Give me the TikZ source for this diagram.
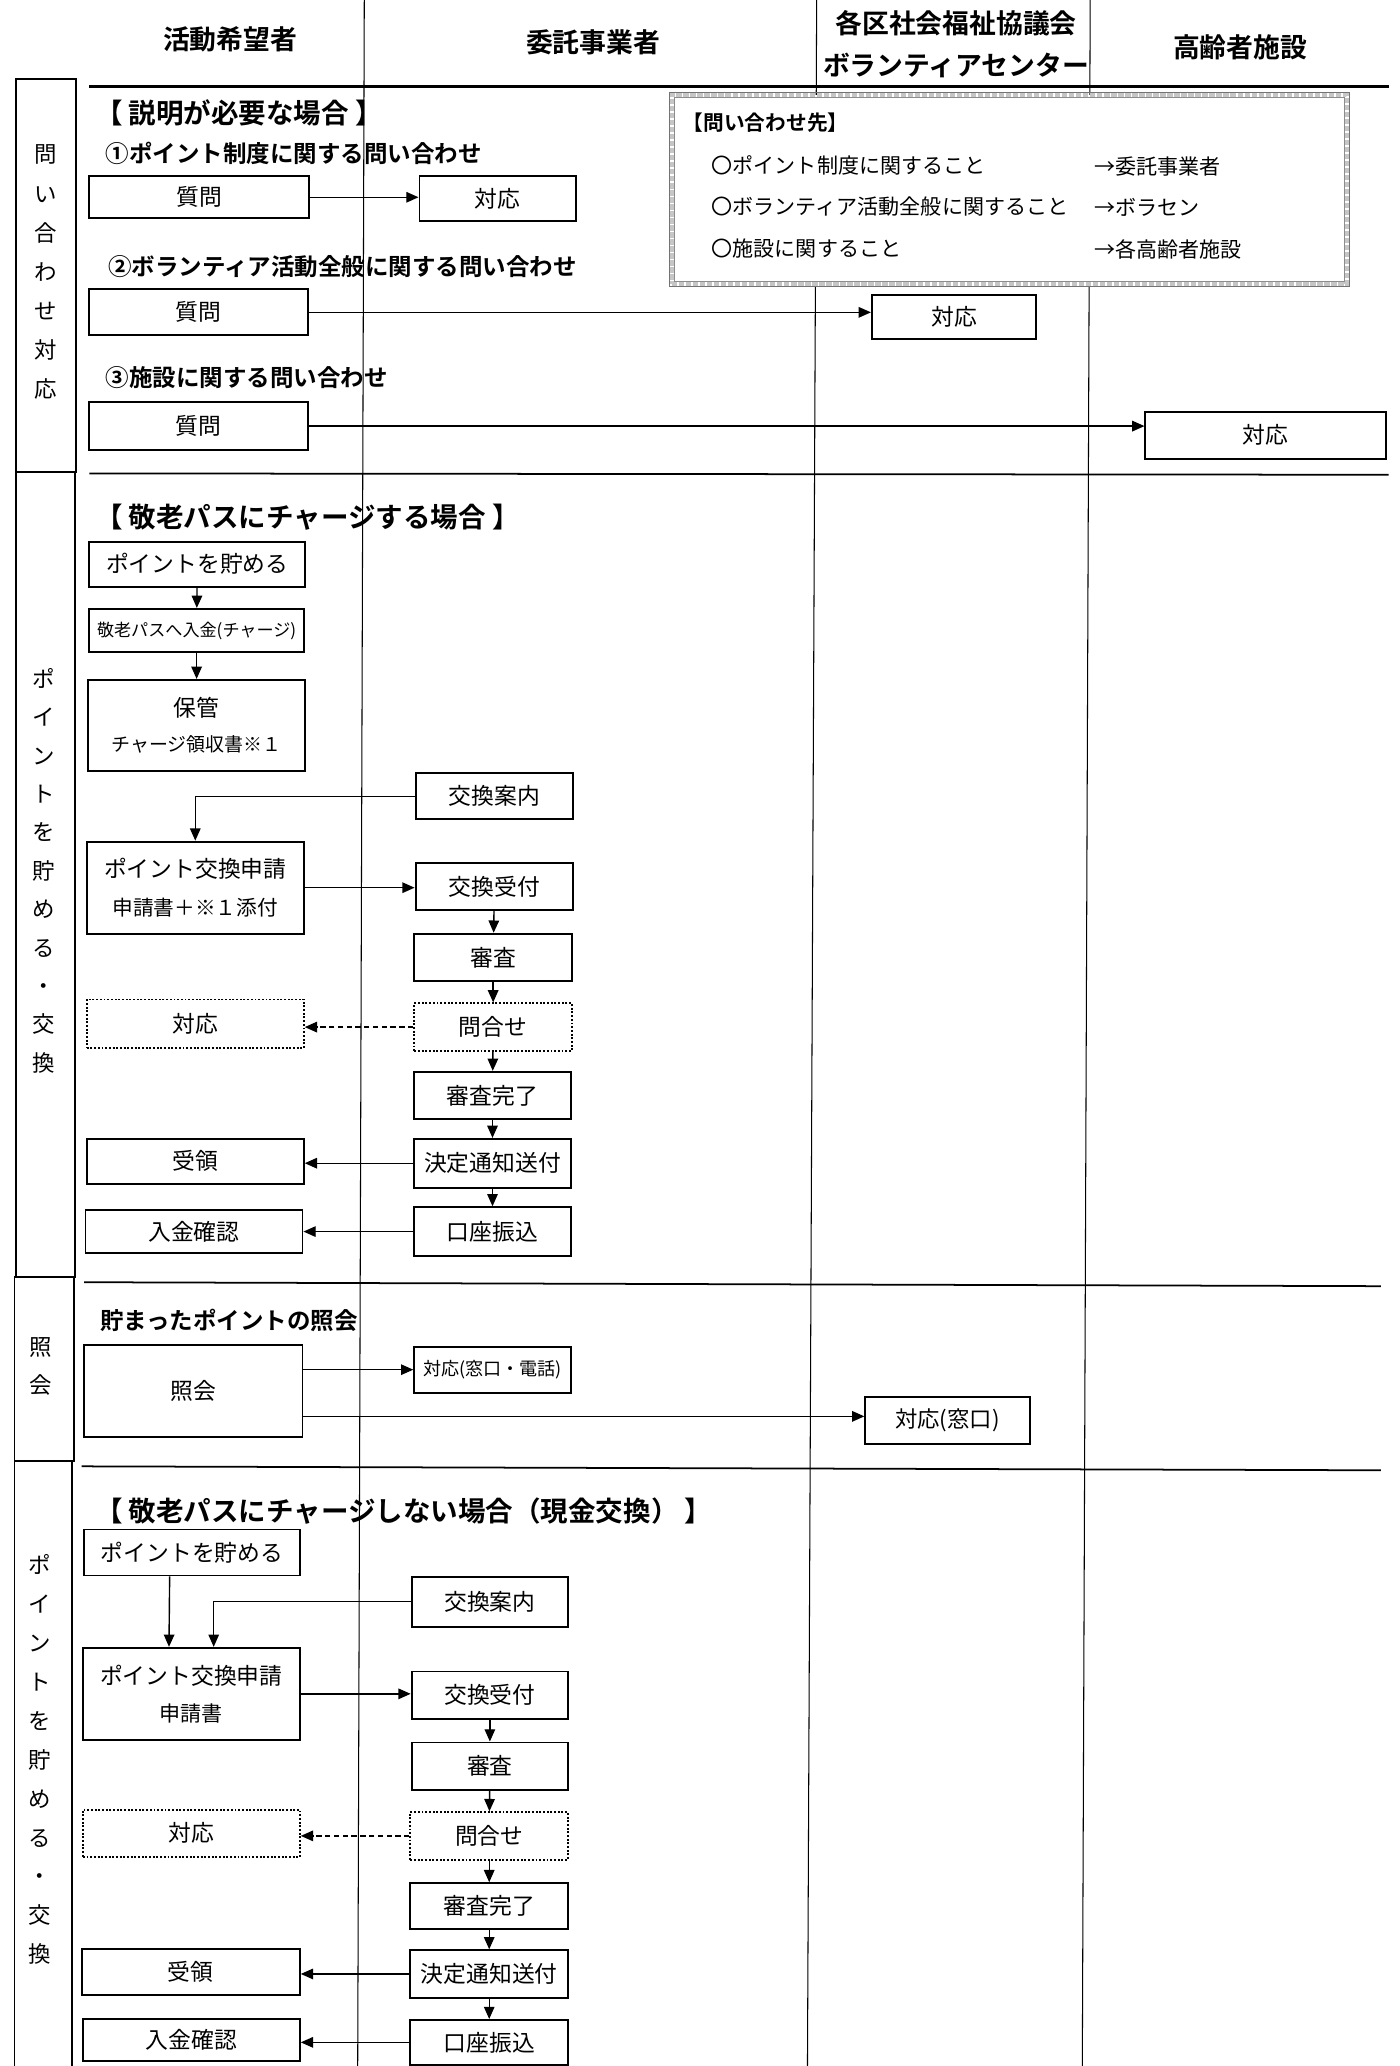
\documentclass[tikz,border=0pt]{standalone}
\usepackage{fontspec}
\setmainfont{Noto Sans CJK JP}[BoldFont={Noto Sans CJK JP Bold}]
\usetikzlibrary{arrows.meta,calc}
\newcommand\mkbox[7][]{%
 \pgfmathsetmacro\myBXcx{(#3+#5)/2}%
 \pgfmathsetmacro\myBXcy{(#4+#6)/2}%
 \pgfmathsetmacro\myBXw{(#5-#3)*0.75}%
 \pgfmathsetmacro\myBXh{(#6-#4)*0.75}%
 \node[box,#1,minimum width=\myBXw pt,minimum height=\myBXh pt] (#2) at (\myBXcx,\myBXcy) {#7};}
\begin{document}
\begin{tikzpicture}[x=0.75pt,y=-0.75pt,
 box/.style={draw, line width=1.1pt, inner sep=0pt, align=center, font=\fontsize{13}{15}\selectfont},
 dbox/.style={densely dotted},
 arr/.style={line width=0.8pt, -{Triangle[length=7pt,width=6pt]}},
 darr/.style={arr, densely dashed},
 lane/.style={line width=0.6pt},
 sep/.style={line width=1pt},
 hd/.style={font=\bfseries\fontsize{15.3}{17}\selectfont, inner sep=0pt},
 ttl/.style={font=\bfseries\fontsize{15.7}{17}\selectfont, anchor=west, inner sep=0pt},
 sub/.style={font=\bfseries\fontsize{13.4}{15}\selectfont, anchor=west, inner sep=0pt},
 info/.style={font=\fontsize{12}{14}\selectfont, anchor=west, inner sep=0pt},
 vlab/.style={inner sep=0pt, align=center},
 sect/.style={draw, line width=1.1pt},
]
\useasboundingbox[fill=white] (0,0) rectangle (1064,1571);

% lane lines
\draw[lane] (277,0) -- (272,1571);
\draw[lane] (621,0) -- (614,1571);
\draw[lane] (829,0) -- (823,1571);

% header
\node[hd] (h1) at (175,30) {活動希望者};
\node[hd] (h2) at (451,32) {委託事業者};
\node[hd] (h3a) at (727,18) {各区社会福祉協議会};
\node[hd] (h3b) at (727,50) {ボランティアセンター};
\node[hd] (h4) at (943,36) {高齢者施設};
\draw[line width=1.5pt] (68,66) -- (1056,66);

% section separators
\draw[sep] (68,360) -- (1056,361);
\draw[sep] (64,975) -- (1050,978);
\draw[sep] (62,1115) -- (1050,1118);

% left column
\draw[sect] (12,60) rectangle (58,359);
\draw[sect] (12,359) rectangle (57,971);
\draw[sect] (11,971) rectangle (56,1111);
\draw[sect] (11,1111) rectangle (55,1590);
\node[vlab, font=\fontsize{12.8}{22.3}\selectfont] (v1) at (35,207) {問\\い\\合\\わ\\せ\\対\\応};
\node[vlab, font=\fontsize{12.8}{21.9}\selectfont] (v2) at (33,662) {ポ\\イ\\ン\\ト\\を\\貯\\め\\る\\・\\交\\換};
\node[vlab, font=\fontsize{12.8}{21.8}\selectfont] (v3) at (31,1039) {照\\会};
\node[vlab, font=\fontsize{12.8}{22.2}\selectfont] (v4) at (30,1338) {ポ\\イ\\ン\\ト\\を\\貯\\め\\る\\・\\交\\換};

% ---------- section 1 ----------
\node[ttl] (t1) at (72,86) {【 説明が必要な場合 】};
\node[sub] (s1t) at (80,117) {①ポイント制度に関する問い合わせ};
\node[sub] (s2t) at (82,203) {②ボランティア活動全般に関する問い合わせ};
\node[sub] (s3t) at (80,287) {③施設に関する問い合わせ};

\mkbox{q1}{68}{134}{235}{166}{質問}
\mkbox{a1}{319}{134}{438}{168}{対応}
\mkbox{q2}{68}{220}{234}{255}{質問}
\mkbox{a2}{663}{224}{788}{258}{対応}
\mkbox{q3}{68}{306}{234}{342}{質問}
\mkbox{a3}{871}{313}{1054}{349}{対応}
\draw[arr] (q1.east) -- (q1.east -| a1.west);
\draw[arr] (q2.east) -- (q2.east -| a2.west);
\draw[arr] (q3.east) -- (q3.east -| a3.west);

% info box
\mkbox[fill=white, draw=gray!45, line width=3pt, densely dotted]{ib}{511}{72}{1024}{216}{}
\draw[line width=0.3pt, black!55] (ib.north west) rectangle (ib.south east);
\draw[line width=0.3pt, black!45] ($(ib.north west)+(4,4)$) rectangle ($(ib.south east)+(-4,-4)$);
\node[info, font=\bfseries\fontsize{11.8}{14}\selectfont] (i0) at (519,93) {【問い合わせ先】};
\node[info] (i1) at (541,126) {〇ポイント制度に関すること};
\node[info] (j1) at (832,127) {→委託事業者};
\node[info] (i2) at (541,157) {〇ボランティア活動全般に関すること};
\node[info] (j2) at (832,158) {→ボラセン};
\node[info] (i3) at (541,189) {〇施設に関すること};
\node[info] (j3) at (832,190) {→各高齢者施設};

% ---------- section 2 ----------
\node[ttl] (t2) at (72,393) {【 敬老パスにチャージする場合 】};
\mkbox{p1}{68}{412}{232}{446}{ポイントを貯める}
\mkbox[font=\fontsize{9.75}{11}\selectfont]{p2}{68}{463}{231}{496}{敬老パスへ入金(チャージ)}
\mkbox[font=\fontsize{13}{20}\selectfont]{p3}{67}{517}{232}{586}{保管\\{\fontsize{10.8}{13}\selectfont チャージ領収書※１}}
\mkbox{g1}{316}{588}{436}{623}{交換案内}
\mkbox[font=\fontsize{13}{21.5}\selectfont]{ap1}{66}{640}{231}{710}{ポイント交換申請\\{\fontsize{11.8}{13}\selectfont 申請書＋※１添付}}
\mkbox{r1}{316}{656}{436}{692}{交換受付}
\mkbox{r2}{315}{710}{435}{746}{審査}
\mkbox[dbox]{r3}{315}{763}{435}{799}{問合せ}
\mkbox[dbox]{c1}{66}{760}{231}{797}{対応}
\mkbox{r4}{315}{815}{434}{851}{審査完了}
\mkbox{r5}{315}{866}{434}{903}{決定通知送付}
\mkbox{e1}{66}{866}{231}{900}{受領}
\mkbox{r6}{315}{918}{434}{955}{口座振込}
\mkbox{f1}{65}{920}{230}{953}{入金確認}

\draw[arr] (p1) -- (p2);
\draw[arr] (p2) -- (p3);
\draw[arr] (g1.west) -| (ap1.north);
\draw[arr] (ap1.east) -- (ap1.east -| r1.west);
\draw[arr] (r1) -- (r2);
\draw[arr] (r2) -- (r3);
\draw[darr] (r3.west) -- (r3.west -| c1.east);
\draw[arr] (r3) -- (r4);
\draw[arr] (r4) -- (r5);
\draw[arr] (r5.west) -- (r5.west -| e1.east);
\draw[arr] (r5) -- (r6);
\draw[arr] (r6.west) -- (r6.west -| f1.east);

% ---------- section 3 ----------
\node[sub] (t3) at (76,1004) {貯まったポイントの照会};
\mkbox{sh}{64}{1023}{230}{1093}{照会}
\mkbox[font=\fontsize{10.3}{12}\selectfont]{k1}{315}{1024}{434}{1059}{対応(窓口・電話)}
\mkbox[font=\fontsize{12.75}{14}\selectfont]{k2}{658}{1062}{783}{1098}{対応(窓口)}
\draw[arr] (sh.east |- k1) -- (k1.west);
\draw[arr] ($(sh.east |- k2)+(0,-3)$) -- ($(k2.west)+(0,-3)$);

% ---------- section 4 ----------
\node[ttl] (t4) at (72,1149) {【 敬老パスにチャージしない場合（現金交換） 】};
\mkbox{p4}{64}{1163}{228}{1198}{ポイントを貯める}
\mkbox{g2}{313}{1199}{432}{1237}{交換案内}
\mkbox[font=\fontsize{13}{21}\selectfont]{ap2}{63}{1253}{228}{1323}{ポイント交換申請\\{\fontsize{12}{13}\selectfont 申請書}}
\mkbox{u1}{313}{1271}{432}{1307}{交換受付}
\mkbox{u2}{313}{1325}{432}{1361}{審査}
\mkbox[dbox]{u3}{312}{1378}{432}{1414}{問合せ}
\mkbox[dbox]{c2}{63}{1376}{228}{1412}{対応}
\mkbox{u4}{312}{1432}{432}{1467}{審査完了}
\mkbox{u5}{312}{1483}{432}{1519}{決定通知送付}
\mkbox{e2}{62}{1482}{228}{1517}{受領}
\mkbox{u6}{312}{1536}{432}{1570}{口座振込}
\mkbox{f2}{63}{1535}{228}{1567}{入金確認}

\draw[arr] ($(p4.south)+(-17,0)$) -- ($(ap2.north)+(-17,0)$);
\draw[arr] (g2.west) -| ($(ap2.north)+(17,0)$);
\draw[arr] (ap2.east) -- (ap2.east -| u1.west);
\draw[arr] (u1) -- (u2);
\draw[arr] (u2) -- (u3);
\draw[darr] (u3.west) -- (u3.west -| c2.east);
\draw[arr] (u3) -- (u4);
\draw[arr] (u4) -- (u5);
\draw[arr] (u5.west) -- (u5.west -| e2.east);
\draw[arr] (u5) -- (u6);
\draw[arr] (u6.west) -- (u6.west -| f2.east);
\end{tikzpicture}
\end{document}
